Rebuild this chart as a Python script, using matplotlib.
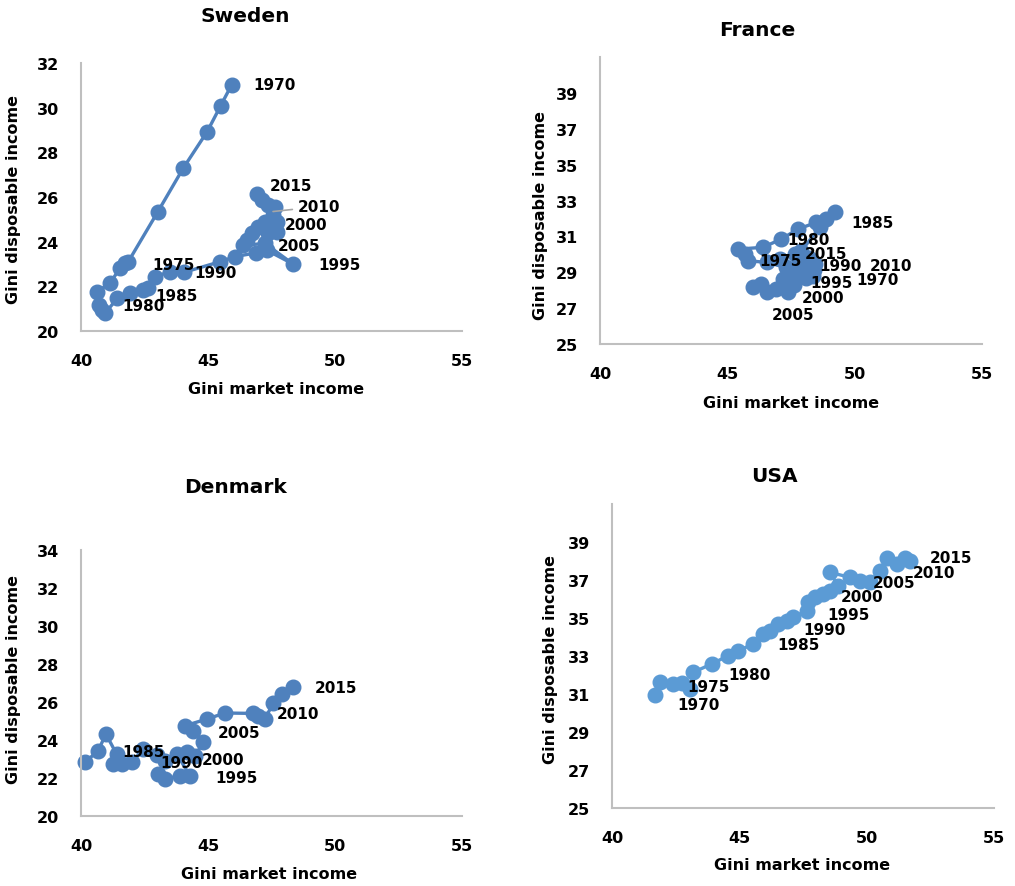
#!/usr/bin/env python

import matplotlib
matplotlib.use('Agg')
import matplotlib.pyplot as plt

# ---- data: Gini market income (x) vs Gini disposable income (y), yearly path ----
sweden_market = [45.93, 45.50, 44.97, 44.03, 43.02, 41.86, 41.73, 41.54, 41.14, 40.62,
                 40.72, 40.81, 40.94, 41.43, 41.93, 42.45, 42.65, 42.91, 43.50, 44.06,
                 45.47, 46.06, 46.90, 47.31, 48.35, 47.24, 46.39, 46.52, 46.72, 46.98,
                 47.24, 47.70, 47.37, 47.70, 47.57, 47.64, 47.37, 47.11, 46.92]
sweden_disp = [31.02, 30.09, 28.93, 27.30, 25.33, 23.10, 23.03, 22.83, 22.13, 21.76,
               21.16, 20.94, 20.79, 21.46, 21.69, 21.84, 21.91, 22.43, 22.66, 22.63,
               23.10, 23.33, 23.50, 23.62, 23.00, 23.92, 23.84, 24.07, 24.37, 24.67,
               24.89, 24.44, 24.37, 24.89, 25.18, 25.56, 25.63, 25.85, 26.15]

france_market = [48.37, 47.97, 47.32, 46.54, 45.82, 45.69, 45.42, 46.40, 47.12, 47.78,
                 48.50, 48.89, 49.22, 48.63, 47.91, 48.43, 47.65, 47.06, 47.71, 47.19,
                 47.32, 46.93, 46.54, 46.01, 46.34, 47.38, 47.60, 48.10, 48.40, 47.90,
                 47.40, 47.80, 48.20]
france_disp = [28.80, 29.18, 29.27, 29.55, 29.64, 30.01, 30.29, 30.39, 30.85, 31.41,
               31.78, 31.96, 32.34, 31.50, 30.20, 29.46, 30.01, 29.74, 28.71, 28.62,
               28.25, 28.06, 27.88, 28.16, 28.34, 27.88, 28.30, 28.70, 29.10, 29.50,
               29.00, 29.70, 29.80]

denmark_market = [40.16, 40.68, 40.98, 41.40, 41.27, 41.60, 42.00, 42.45, 43.00, 43.31,
                  43.04, 43.31, 43.90, 44.29, 43.77, 44.16, 44.49, 44.81, 44.42, 44.09,
                  44.95, 45.67, 46.78, 46.98, 47.24, 47.57, 47.90, 48.36]
denmark_disp = [22.83, 23.44, 24.32, 23.26, 22.74, 22.74, 22.83, 23.53, 23.20, 22.91,
                22.21, 21.95, 22.12, 22.12, 23.26, 23.35, 23.17, 23.88, 24.49, 24.75,
                25.10, 25.42, 25.40, 25.28, 25.10, 25.95, 26.42, 26.77]

usa_market = [41.69, 41.88, 42.41, 42.74, 43.06, 43.19, 43.91, 44.57, 44.96, 45.55,
              45.94, 46.20, 46.53, 46.86, 47.12, 47.64, 47.71, 47.97, 48.30, 48.56,
              48.88, 48.56, 49.34, 49.74, 50.13, 50.52, 50.78, 51.18, 51.50, 51.70]
usa_disp = [30.95, 31.61, 31.53, 31.58, 31.26, 32.14, 32.58, 33.02, 33.28, 33.63,
            34.16, 34.33, 34.68, 34.86, 35.04, 35.38, 35.83, 36.09, 36.26, 36.44,
            36.70, 37.40, 37.14, 36.96, 36.91, 37.49, 38.18, 37.84, 38.18, 38.00]

# year labels: (text, x, y) in data units (left edge / vertical centre of the text)
sweden_labels = [('1970', 46.77, 31.02), ('2015', 47.44, 26.51), ('2010', 48.54, 25.57),
                 ('2000', 48.03, 24.77), ('2005', 47.76, 23.83), ('1995', 49.33, 22.98),
                 ('1975', 42.80, 22.98), ('1990', 44.45, 22.63), ('1985', 42.91, 21.60),
                 ('1980', 41.61, 21.15)]
france_labels = [('1985', 49.88, 31.80), ('1980', 47.37, 30.85), ('2015', 48.04, 30.07),
                 ('1975', 46.27, 29.68), ('1990', 48.63, 29.35), ('2010', 50.59, 29.35),
                 ('1995', 48.24, 28.45), ('1970', 50.08, 28.62), ('2000', 47.92, 27.62),
                 ('2005', 46.75, 26.67)]
denmark_labels = [('2015', 49.21, 26.74), ('2010', 47.72, 25.37), ('2005', 45.39, 24.42),
                  ('1985', 41.61, 23.42), ('1990', 43.11, 22.79), ('2000', 44.76, 22.95),
                  ('1995', 45.28, 22.05)]
usa_labels = [('2015', 52.49, 38.16), ('2010', 51.82, 37.42), ('2005', 50.25, 36.89),
              ('2000', 48.99, 36.11), ('1995', 48.44, 35.16), ('1990', 47.50, 34.42),
              ('1985', 46.48, 33.63), ('1980', 44.55, 32.05), ('1975', 42.94, 31.42),
              ('1970', 42.55, 30.47)]

W, H = 1015, 887
plt.rcParams['font.family'] = ['DejaVu Sans']


def fig_xy(px, py):
    # pixel position (top-left origin) -> figure fraction
    return px / W, 1 - py / H


def make_panel(fig, box, x, y, labels, color, ylim, yticks, title, title_xy, xlabel_xy, ylabel_xy):
    left, top, right, bottom = box
    l, b = fig_xy(left, bottom)
    r, t = fig_xy(right, top)
    ax = fig.add_axes([l, b, r - l, t - b])
    ax.plot(x, y, '-o', color=color, lw=2.4, markersize=10.5, clip_on=False)

    for text, tx, ty in labels:
        if title == 'Sweden' and text == '2010':
            # label with a grey leader line back to its point
            ax.annotate(text, xy=(47.56, 25.35), xytext=(tx, ty), fontsize=11,
                        fontweight='bold', ha='left', va='center',
                        arrowprops=dict(arrowstyle='-', color='#A6A6A6', lw=1.2,
                                        shrinkA=2, shrinkB=0))
        else:
            ax.text(tx, ty, text, fontsize=11, fontweight='bold', ha='left', va='center')

    ax.set_xlim(40, 55)
    ax.set_xticks([40, 45, 50, 55])
    ax.set_ylim(*ylim)
    ax.set_yticks(yticks)
    for s in ['top', 'right']:
        ax.spines[s].set_visible(False)
    for s in ['left', 'bottom']:
        ax.spines[s].set_color('#BFBFBF')
        ax.spines[s].set_linewidth(1.5)
    ax.tick_params(length=0, labelsize=11.5)
    ax.tick_params(axis='x', pad=16)
    ax.tick_params(axis='y', pad=16)
    for lab in ax.get_xticklabels() + ax.get_yticklabels():
        lab.set_fontweight('bold')

    fig.text(*fig_xy(*title_xy), title, fontsize=14.5, fontweight='bold', ha='center', va='center')
    fig.text(*fig_xy(*xlabel_xy), 'Gini market income', fontsize=11.5, fontweight='bold',
             ha='center', va='center')
    fig.text(*fig_xy(*ylabel_xy), 'Gini disposable income', fontsize=11.5, fontweight='bold',
             ha='center', va='center', rotation=90)
    return ax


if __name__ == '__main__':
    fig = plt.figure(figsize=(W / 100, H / 100), dpi=100)

    blue = '#4F81BD'
    light_blue = '#5B9BD5'

    make_panel(fig, (81, 64, 462, 332), sweden_market, sweden_disp, sweden_labels, blue,
               (20, 32), range(20, 33, 2), 'Sweden', (245, 17), (276, 390), (14, 200))
    make_panel(fig, (600, 58, 982, 345), france_market, france_disp, france_labels, blue,
               (25, 41), range(25, 40, 2), 'France', (757, 30), (791, 404), (540, 215))
    make_panel(fig, (81, 551, 462, 817), denmark_market, denmark_disp, denmark_labels, blue,
               (20, 34), range(20, 35, 2), 'Denmark', (236, 488), (269, 875), (14, 680))
    make_panel(fig, (612, 505, 994, 809), usa_market, usa_disp, usa_labels, light_blue,
               (25, 41), range(25, 40, 2), 'USA', (774, 476), (802, 866), (551, 660))

    plt.savefig('out.png', dpi=100)
